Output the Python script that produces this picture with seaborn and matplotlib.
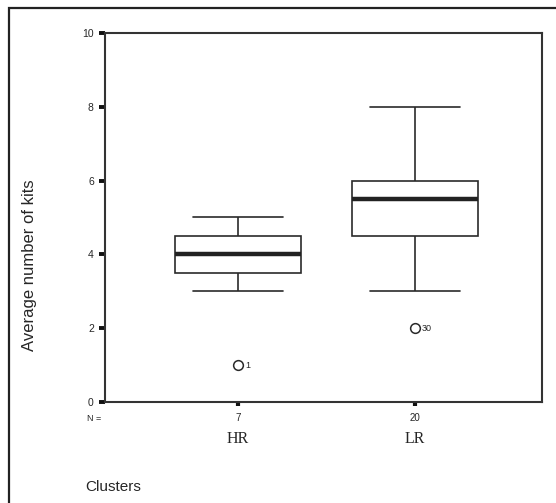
import pandas as pd
import matplotlib.pyplot as plt
import seaborn as sns
from matplotlib.patches import Rectangle

# 1. Data (per-case averages, consistent with the plotted box summaries)
clusters = ["HR", "LR"]
hr_kits = [1, 3, 4, 4, 4, 5, 5]
lr_kits = [2, 3, 4, 4, 4.5, 4.5, 5, 5, 5, 5, 6, 6, 6, 6, 6, 6, 7, 7, 7.5, 8]
outlier_values = [1, 2]
outlier_cases = ["1", "30"]
y_ticks = [0, 2, 4, 6, 8, 10]

df = pd.DataFrame({
    "Clusters": ["HR"] * len(hr_kits) + ["LR"] * len(lr_kits),
    "kits": hr_kits + lr_kits,
})
n_counts = [len(hr_kits), len(lr_kits)]

# 2. Figure
sns.set_style("ticks")
plt.rcParams["font.family"] = ["Liberation Sans", "DejaVu Sans"]
edge = "#2a2a2a"

fig = plt.figure(figsize=(5.56, 5.03), dpi=100)
ax = fig.add_axes([0.1888, 0.2008, 0.786, 0.7336])

sns.boxplot(
    data=df, x="Clusters", y="kits", order=clusters, ax=ax,
    width=0.71, color="white", linecolor=edge, linewidth=1.2,
    fliersize=7, flierprops={"marker": "o", "markerfacecolor": "none", "markeredgewidth": 1.1},
    medianprops={"linewidth": 3.2, "color": "#222222"},
    capwidths=0.51,
)

# outlier case labels
for i, (val, lab) in enumerate(zip(outlier_values, outlier_cases)):
    ax.annotate(lab, (i, val), xytext=(5, 0), textcoords="offset points",
                ha="left", va="center", fontsize=6.5)

ax.set_xlim(-0.751, 1.717)
ax.set_ylim(0, 10)
ax.set_yticks(y_ticks)
ax.set_yticklabels([str(t) for t in y_ticks], fontsize=7.5)
ax.set_xticks(range(len(clusters)))
ax.set_xticklabels([str(n) for n in n_counts], fontsize=7)
ax.tick_params(axis="y", left=True, direction="out", length=4, width=2.8, color="#111111", pad=4)
ax.tick_params(axis="x", bottom=True, direction="out", length=3, width=3, color="#111111", pad=5)
for s in ax.spines.values():
    s.set_visible(True)
    s.set_color("#333333")
    s.set_linewidth(1.5)

ax.set_xlabel("")
ax.set_ylabel("Average number of kits", fontsize=12)
ax.yaxis.set_label_coords(-0.155, 0.37)

# category names under the N counts
for i, c in enumerate(clusters):
    ax.text(i, -0.1, c, transform=ax.get_xaxis_transform(), ha="center", va="center",
            fontsize=11.5, family="Liberation Serif")
ax.text(-0.025, -0.045, "N =", transform=ax.transAxes, ha="center", va="center", fontsize=6.5)

fig.text(0.153, 0.032, "Clusters", ha="left", va="center", fontsize=11)

# outer frame (only left and top edges fall inside the image)
top = 1 - 8 / 503
fig.add_artist(Rectangle((9 / 556, -0.2), 1.2, top + 0.2, transform=fig.transFigure,
                         fill=False, edgecolor="#222222", linewidth=1.6))

plt.savefig("out.png", dpi=100)
